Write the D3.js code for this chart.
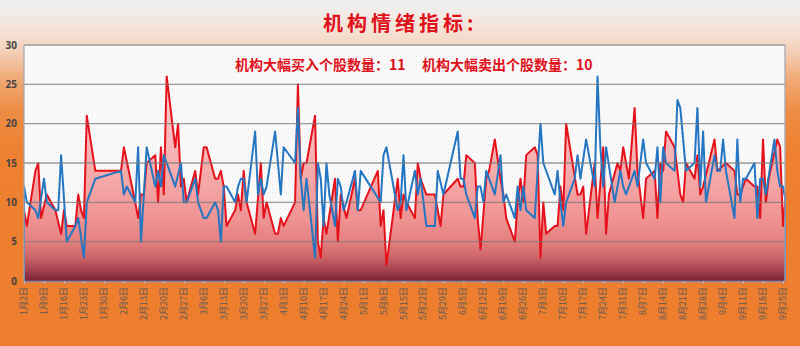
<!DOCTYPE html>
<html><head><meta charset="utf-8">
<script src="https://cdn.jsdelivr.net/npm/d3@7"></script>
<style>body{margin:0;background:#ee7f2e;} svg{display:block;}</style>
</head><body>
<svg id="c" width="800" height="346"></svg>
<script>
const yearPrefix = "2022-";
const titleText = "机构情绪指标:";
const buyLabel = "机构大幅买入个股数量：11";
const sellLabel = "机构大幅卖出个股数量：10";
const yTicks = [0, 5, 10, 15, 20, 25, 30];
const xTickDates = ["01-02","01-09","01-16","01-23","01-30","02-06","02-13","02-20","02-27","03-06","03-13","03-20","03-27","04-03","04-10","04-17","04-24","05-01","05-08","05-15","05-22","05-29","06-05","06-12","06-19","06-26","07-03","07-10","07-17","07-24","07-31","08-07","08-14","08-21","08-28","09-04","09-11","09-18","09-25"];

// 机构大幅买入 (red)
const buyDates = [
 "01-02","01-03","01-06","01-07","01-08","01-10","01-13","01-15","01-16","01-17","01-20","01-21","01-22","01-23","01-24","01-27",
 "02-05","02-06","02-10","02-11","02-12","02-13","02-14","02-17","02-18","02-19","02-20","02-21","02-24","02-25","02-26","02-27","02-28",
 "03-03","03-04","03-06","03-07","03-10","03-11","03-12","03-13","03-14","03-17","03-18","03-19","03-20","03-21","03-24","03-26","03-27","03-28","03-31",
 "04-01","04-02","04-03","04-07","04-08","04-09","04-10","04-11","04-14","04-15","04-16","04-17","04-18","04-21","04-22","04-23","04-25","04-28","04-29","04-30",
 "05-06","05-07","05-08","05-09","05-13","05-14","05-15","05-16","05-19","05-20","05-21","05-23","05-26","05-28","05-29",
 "06-03","06-04","06-05","06-06","06-09","06-10","06-11","06-13","06-14","06-16","06-18","06-19","06-20","06-23","06-24","06-25","06-26","06-27","06-30",
 "07-01","07-02","07-03","07-04","07-07","07-08","07-09","07-10","07-11","07-15","07-16","07-17","07-18","07-21","07-22","07-24","07-25","07-26","07-29","07-30","07-31",
 "08-01","08-02","08-04","08-05","08-07","08-08","08-11","08-12","08-13","08-14","08-15","08-18","08-20","08-21","08-22","08-25","08-26","08-27","08-28",
 "09-01","09-02","09-05","09-08","09-09","09-10","09-12","09-15","09-16","09-17","09-18","09-19","09-20","09-23","09-24","09-25","09-26"];
const buyValues = [
 9,7,14,15,8,11,9,6,9,7,7,11,9,8,21,14,
 14,17,10,8,11,11,15,16,10,17,11,26,17,20,12,13,10,
 14,11,17,17,13,13,14,12,7,9,11,9,14,10,6,15,8,10,6,
 6,8,7,10,25,13,15,15,21,5,3,8,6,13,5,11,8,13,9,9,
 14,7,9,2,13,8,11,10,8,15,13,11,11,7,11,
 13,12,12,16,15,8,4,13,14,18,13,11,8,5,10,13,10,16,17,
 16,3,10,6,7,7,12,9,20,11,11,12,6,15,8,17,6,11,15,14,17,
 15,13,22,14,8,13,14,8,15,14,19,17,11,10,15,13,16,11,12,
 18,14,15,14,11,11,13,12,12,8,18,10,13,18,17,7,11];

// 机构大幅卖出 (blue)
const sellDates = [
 "01-02","01-02","01-03","01-06","01-07","01-09","01-10","01-13","01-14","01-15","01-17","01-20","01-21","01-23","01-24","01-27",
 "02-05","02-06","02-07","02-10","02-11","02-12","02-13","02-14","02-17","02-18","02-19","02-20","02-22","02-24","02-26","02-27","02-28",
 "03-03","03-04","03-06","03-07","03-10","03-11","03-12","03-13","03-14","03-17","03-18","03-19","03-20","03-21","03-24","03-25","03-26","03-27","03-28","03-31",
 "04-02","04-03","04-07","04-08","04-09","04-10","04-11","04-14","04-15","04-16","04-17","04-18","04-19","04-21","04-22","04-23","04-24","04-25","04-28","04-29","04-30",
 "05-07","05-08","05-09","05-13","05-14","05-15","05-16","05-19","05-20","05-21","05-23","05-26","05-27","05-29",
 "06-03","06-04","06-05","06-06","06-09","06-10","06-11","06-12","06-13","06-16","06-18","06-19","06-20","06-23","06-24","06-25","06-26","06-27","06-30",
 "07-02","07-03","07-07","07-08","07-09","07-10","07-11","07-14","07-15","07-16","07-18","07-21","07-22","07-23","07-24","07-25","07-28","07-29","07-30","07-31",
 "08-01","08-04","08-05","08-07","08-08","08-11","08-12","08-13","08-14","08-15","08-18","08-19","08-20","08-22","08-25","08-26","08-27","08-28","08-29",
 "09-01","09-02","09-03","09-04","09-05","09-08","09-09","09-10","09-11","09-12","09-15","09-16","09-17","09-18","09-19","09-22","09-23","09-24","09-25","09-26","09-26"];
const sellValues = [
 0,12,10,9,8,13,10,9,9,16,5,7,8,3,10,13,
 14,11,12,10,17,5,11,17,12,14,12,16,14,12,15,10,10,
 13,10,8,8,10,9,5,12,12,10,12,13,13,10,19,11,13,11,12,19,
 11,17,15,22,13,9,13,3,15,13,7,15,11,7,13,12,9,10,14,9,14,
 10,16,17,9,10,16,9,14,11,13,7,7,14,11,
 19,13,13,11,8,12,12,10,14,11,16,10,11,8,12,9,12,9,8,
 20,15,11,14,10,7,10,13,16,13,18,12,26,17,12,17,10,12,14,12,
 11,14,12,18,15,13,17,10,17,15,14,23,22,14,15,22,12,19,10,
 16,14,14,18,14,8,18,10,13,13,15,8,13,13,11,18,14,12,12,10,0];

const parse = d3.timeParse("%Y-%m-%d");
const toDate = s => parse(yearPrefix + s);
const fmt = d3.timeFormat("%-m月%-d日");

const W = 800, H = 346;
const L = 24, R = 785, T = 45, B = 281;
const svg = d3.select("#c");
const defs = svg.append("defs");

const bg = defs.append("linearGradient").attr("id","bgGrad").attr("x1",0).attr("y1",0).attr("x2",0).attr("y2",1);
[[0,"#eef1f3"],[0.05,"#f3e9e3"],[0.1,"#f5dfd0"],[0.15,"#f4cfb6"],[0.22,"#f1ad7c"],[0.32,"#ee8c44"],[0.45,"#ee8030"],[1,"#ee7e2e"]]
 .forEach(s => bg.append("stop").attr("offset", s[0]).attr("stop-color", s[1]));
svg.append("rect").attr("width",W).attr("height",H).attr("fill","url(#bgGrad)");

const pat = defs.append("pattern").attr("id","dots").attr("width",4).attr("height",4).attr("patternUnits","userSpaceOnUse");
pat.append("rect").attr("width",4).attr("height",4).attr("fill","#fbfbfb");
pat.append("rect").attr("x",0).attr("y",0).attr("width",1).attr("height",1).attr("fill","#e2e2e2");
pat.append("rect").attr("x",2).attr("y",2).attr("width",1).attr("height",1).attr("fill","#e8e8e8");

const x = d3.scaleTime().domain([toDate("01-02"), toDate("09-25")]).range([L, 783]);
const y = d3.scaleLinear().domain([0, 30]).range([B, T]);

const ag = defs.append("linearGradient").attr("id","areaGrad").attr("gradientUnits","userSpaceOnUse")
 .attr("x1",0).attr("y1",y(30)).attr("x2",0).attr("y2",y(0));
[[0,"#fde6e6"],[0.333,"#f8c0c0"],[0.567,"#f5a8a8"],[0.733,"#f09494"],[0.833,"#e48080"],[0.9,"#cc6468"],[0.95,"#a84452"],[1,"#7a2435"]]
 .forEach(s => ag.append("stop").attr("offset", s[0]).attr("stop-color", s[1]));

// plot background
svg.append("rect").attr("x",L).attr("y",T).attr("width",R-L).attr("height",B-T).attr("fill","url(#dots)");

const buy = buyDates.map((d,i) => ({date: toDate(d), v: buyValues[i]}));
const sell = sellDates.map((d,i) => ({date: toDate(d), v: sellValues[i]}));

const clip = defs.append("clipPath").attr("id","pc");
clip.append("rect").attr("x",L).attr("y",T-5).attr("width",R-L+1).attr("height",B-T+6);

const g = svg.append("g").attr("clip-path","url(#pc)");
g.append("path").datum(buy)
 .attr("d", d3.area().x(d=>x(d.date)).y0(y(0)).y1(d=>y(d.v)))
 .attr("fill","url(#areaGrad)");

// gridlines
svg.append("g").selectAll("line").data(yTicks.filter(t=>t>0 && t<30)).join("line")
 .attr("x1",L).attr("x2",R).attr("y1",d=>y(d)).attr("y2",d=>y(d))
 .attr("stroke","#7a7a7a").attr("stroke-opacity",0.75).attr("stroke-width",1.3);
// top & right border
svg.append("line").attr("x1",L).attr("x2",R).attr("y1",T).attr("y2",T).attr("stroke","#9a9a9a").attr("stroke-width",1.5);
svg.append("line").attr("x1",R).attr("x2",R).attr("y1",T).attr("y2",B).attr("stroke","#a0a6b4").attr("stroke-width",1.2);
svg.append("line").attr("x1",L).attr("x2",L).attr("y1",T).attr("y2",B).attr("stroke","#a0a6b4").attr("stroke-width",1.2);

g.append("path").datum(buy)
 .attr("d", d3.line().x(d=>x(d.date)).y(d=>y(d.v)))
 .attr("fill","none").attr("stroke","#e5121b").attr("stroke-width",2).attr("stroke-linejoin","round");
g.append("path").datum(sell)
 .attr("d", d3.line().x(d=>x(d.date)).y(d=>y(d.v)))
 .attr("fill","none").attr("stroke","#2476c2").attr("stroke-width",2).attr("stroke-linejoin","round");

// x axis
const xa = svg.append("g").attr("transform",`translate(0,${B})`)
 .call(d3.axisBottom(x).tickValues(xTickDates.map(toDate)).tickSize(3).tickFormat(""));
xa.select(".domain").attr("stroke","#7d8db0").attr("stroke-width",1.5);
xa.selectAll(".tick line").attr("stroke","#b8b8c0");
svg.append("g").selectAll("text").data(xTickDates).join("text")
 .attr("transform", d => `translate(${x(toDate(d))+3},287) rotate(-90)`)
 .attr("text-anchor","end")
 .attr("font-family","'Noto Sans CJK SC', sans-serif").attr("font-size",9).attr("fill","#5a5a5a")
 .text(d => fmt(toDate(d)));

// y axis labels
svg.append("g").selectAll("text").data(yTicks).join("text")
 .attr("x",17).attr("y",d=>y(d)+3.5).attr("text-anchor","end")
 .attr("font-family","'Open Sans', 'Noto Sans', sans-serif").attr("font-size",10).attr("font-weight","bold").attr("fill","#444")
 .text(d=>d);

// titles
svg.append("text").attr("x",323).attr("y",31)
 .attr("font-family","'Noto Sans CJK SC', sans-serif").attr("font-size",20).attr("font-weight","bold")
 .attr("letter-spacing","4px").attr("fill","#e0101a").text(titleText);
svg.append("text").attr("x",235).attr("y",70)
 .attr("font-family","'Noto Sans CJK SC', sans-serif").attr("font-size",14).attr("font-weight","bold")
 .attr("fill","#e0101a").text(buyLabel);
svg.append("text").attr("x",422).attr("y",70)
 .attr("font-family","'Noto Sans CJK SC', sans-serif").attr("font-size",14).attr("font-weight","bold")
 .attr("fill","#e0101a").text(sellLabel);
</script>
</body></html>
